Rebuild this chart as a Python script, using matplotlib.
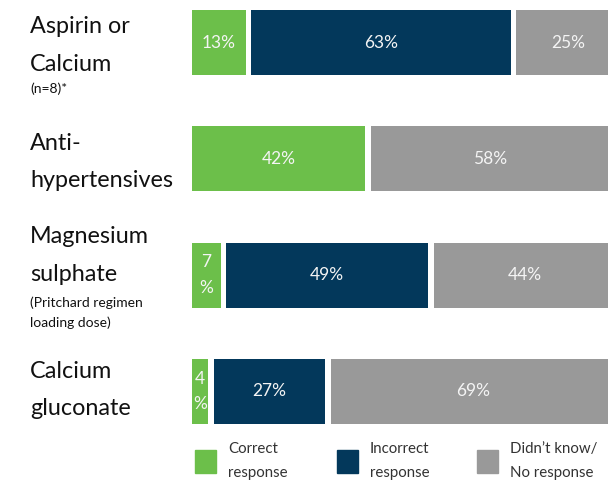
import numpy as np
import matplotlib.pyplot as plt
from matplotlib.patches import Rectangle

plt.rcParams['font.family'] = ['Lato', 'DejaVu Sans']

# 数据：各药物的回答比例（%）
drugs = ['Aspirin or Calcium', 'Anti-hypertensives', 'Magnesium sulphate', 'Calcium gluconate']
label_lines = [
    [('Aspirin or', 'big'), ('Calcium', 'big'), ('(n=8)*', 'small')],
    [('Anti-', 'big'), ('hypertensives', 'big')],
    [('Magnesium', 'big'), ('sulphate', 'big'), ('(Pritchard regimen', 'small'), ('loading dose)', 'small')],
    [('Calcium', 'big'), ('gluconate', 'big')],
]
correct = [13, 42, 7, 4]
incorrect = [63, 0, 49, 27]
dont_know = [25, 58, 44, 69]
series_names = ['Correct\nresponse', 'Incorrect\nresponse', 'Didn\u2019t know/\nNo response']
colors = ['#6cbf4a', '#03385b', '#999999']

W, H = 608, 483
fig = plt.figure(figsize=(W / 100, H / 100), dpi=100)
fig.patch.set_facecolor('white')

# 坐标轴覆盖右侧区域，行中心对齐参考图
row_px = 116.3
top_px = 42.5
px_per_pct = 4.12
ax = fig.add_axes([192 / W, 0, 1 - 192 / W, 1])
ax.set_xlim(0, (W - 192) / px_per_pct)
ax.set_ylim((H - top_px) / row_px, -top_px / row_px)
ax.axis('off')

gap = 1.35
bar_h = 0.56
y = np.arange(len(drugs))
for i in range(len(drugs)):
    left = 0.0
    for vals, c in zip([correct, incorrect, dont_know], colors):
        v = vals[i]
        if v <= 0:
            continue
        ax.barh(y[i], v, left=left, height=bar_h, color=c, edgecolor='none')
        txt = f'{v}%' if v >= 10 else f'{v}\n%'
        ax.text(left + v / 2, y[i], txt, ha='center', va='center',
                color='#f4f4f4', fontsize=12.5, linespacing=1.75)
        left += v + gap

# 左侧类别标签（基线位置，像素）
baselines = [
    [33, 71, 93],
    [150, 187],
    [243, 281, 307, 327],
    [378, 415],
]
for lines, bases in zip(label_lines, baselines):
    for (s, kind), b in zip(lines, bases):
        fig.text(30 / W, 1 - b / H, s, ha='left', va='baseline',
                 fontsize=16.8 if kind == 'big' else 10, color='#111111')

# 图例
leg_x = [195, 337, 477]
for x0, c, name in zip(leg_x, colors, series_names):
    fig.patches.append(Rectangle((x0 / W, 1 - 473 / H), 21 / W, 23 / H,
                                 transform=fig.transFigure, color=c))
    fig.text((x0 + 33) / W, 1 - 461 / H, name, ha='left', va='center',
             fontsize=10.8, color='#333333', linespacing=1.9)

fig.savefig('out.png', dpi=100)
